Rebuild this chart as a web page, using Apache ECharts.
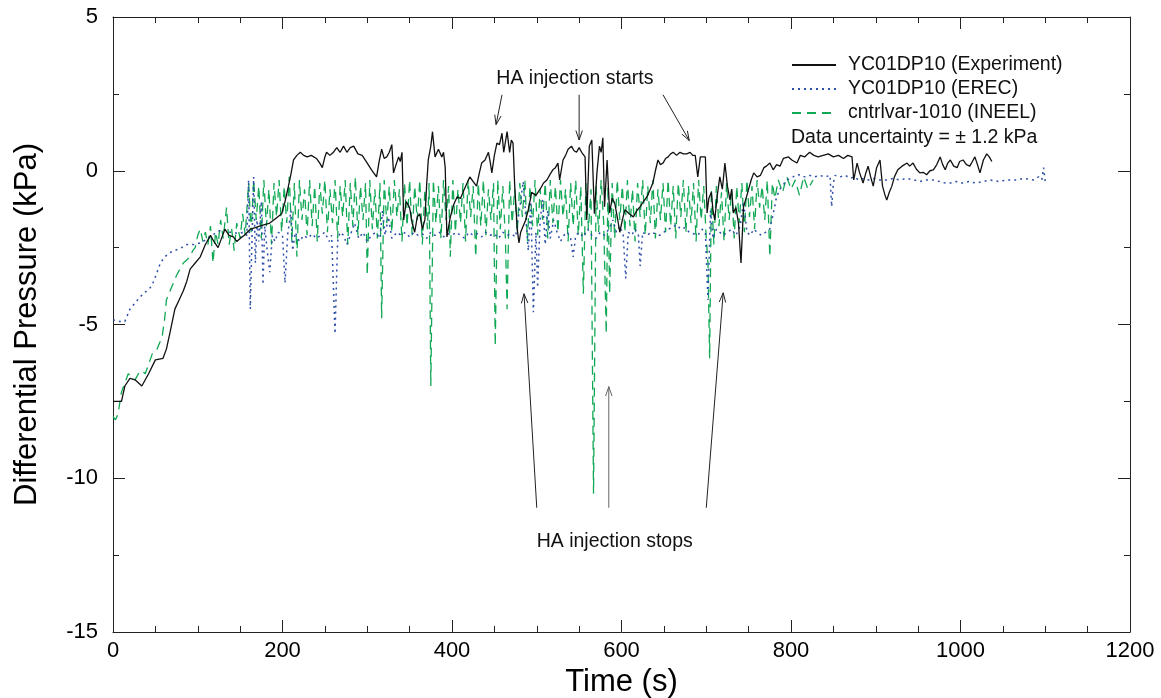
<!DOCTYPE html>
<html>
<head>
<meta charset="utf-8">
<script src="https://cdn.jsdelivr.net/npm/echarts@6/dist/echarts.min.js"></script>
<style>
html,body{margin:0;padding:0;background:#fff;}
#chart{width:1161px;height:698px;}
</style>
</head>
<body>
<div id="chart"></div>
<script>
// ---- data (time s, differential pressure kPa) ----
const seriesNames = ['YC01DP10 (Experiment)', 'YC01DP10 (EREC)', 'cntrlvar-1010 (INEEL)'];

const experiment = [
[0,-7.5],[5,-7.5],[10,-7.5],[14,-7.0],[20,-6.75],[26,-6.8],[34,-7.0],[42,-6.6],[50,-6.15],[59,-6.1],[63,-5.8],[67,-5.3],[73,-4.5],[78,-4.2],[83,-3.9],[87,-3.6],[91,-3.2],[97,-3.0],[103,-2.8],[109,-2.4],[115,-2.1],[119,-2.3],[124,-2.5],[128,-2.2],[132,-1.9],[137,-2.1],[142,-2.15],[146,-2.3],[150,-2.2],[155,-2.1],[162,-1.9],[168,-1.85],[173,-1.8],[179,-1.75],[185,-1.7],[192,-1.55],[199,-1.4],[203,-1.0],[207,-0.5],[210,-0.1],[213,0.35],[217,0.5],[221,0.6],[225,0.5],[229,0.45],[234,0.5],[240,0.4],[244,0.25],[247,0.1],[250,0.45],[252,0.6],[256,0.5],[260,0.6],[264,0.75],[268,0.6],[272,0.8],[276,0.6],[280,0.75],[284,0.8],[289,0.55],[294,0.5],[300,0.25],[305,0.03],[311,-0.2],[314,0.3],[317,0.7],[320,0.4],[323,0.45],[326,0.6],[329,0.85],[331,-0.07],[334,0.2],[337,0.45],[339,0.3],[341,0.6],[343,-1.6],[346,-1.0],[350,-1.2],[353,-1.7],[356,-2.0],[359,-1.5],[362,-1.4],[365,-1.9],[368,-1.6],[370,-0.5],[372,0.35],[375,0.8],[377,1.27],[380,0.45],[384,0.7],[388,0.45],[390,0.6],[392,0.1],[394,-2.15],[398,-1.5],[402,-1.1],[406,-0.85],[410,-0.9],[413,-0.7],[417,-0.45],[421,-0.2],[425,-0.35],[429,-0.5],[432,-0.1],[435,0.25],[439,0.35],[443,0.6],[445,0.3],[447,-0.07],[450,0.5],[453,0.9],[456,0.85],[459,1.22],[461,0.6],[465,1.27],[468,0.6],[470,1.0],[472,0.9],[474,-0.5],[477,-1.9],[479,-2.35],[481,-2.0],[484,-1.8],[487,-1.6],[490,-1.27],[494,-0.7],[499,-0.8],[504,-0.6],[508,-0.4],[512,-0.3],[516,-0.1],[519,0.03],[522,0.1],[525,0.25],[527,-0.3],[531,0.35],[534,0.5],[537,0.7],[541,0.8],[544,0.65],[547,0.6],[550,0.75],[553,0.6],[557,0.45],[559,-1.6],[562,0.8],[565,1.0],[568,-1.4],[571,-0.07],[574,0.8],[576,0.6],[578,1.07],[580,-1.17],[583,0.35],[586,-1.37],[589,-0.9],[592,-1.05],[595,-1.5],[598,-2.0],[601,-1.6],[604,-1.27],[609,-1.4],[614,-1.5],[618,-1.3],[622,-1.17],[626,-1.0],[630,-0.85],[634,-0.6],[637,-0.4],[640,0.0],[643,0.35],[646,0.2],[649,0.25],[652,0.4],[655,0.45],[658,0.55],[661,0.6],[665,0.5],[669,0.6],[673,0.55],[677,0.55],[681,0.6],[684,0.5],[687,0.5],[690,-0.2],[693,0.45],[695,0.5],[699,0.45],[701,-1.37],[703,-0.9],[706,-0.7],[708,-1.3],[710,-1.6],[713,-0.8],[716,-0.2],[719,-0.6],[722,0.25],[725,-0.5],[728,-0.95],[730,-0.6],[732,-1.37],[735,-1.2],[738,-1.7],[741,-3.0],[744,-1.17],[747,-0.9],[750,-0.6],[753,-0.3],[756,-0.07],[760,-0.2],[764,-0.15],[768,0.1],[771,0.15],[775,0.25],[779,0.03],[783,0.2],[787,0.15],[791,0.4],[797,0.45],[801,0.35],[807,0.25],[811,0.5],[816,0.45],[822,0.6],[827,0.5],[832,0.45],[838,0.5],[844,0.55],[850,0.45],[856,0.5],[862,0.4],[867,0.5],[872,0.45],[874,-0.3],[878,0.25],[881,-0.07],[885,-0.4],[888,-0.1],[891,0.15],[894,-0.2],[897,-0.5],[901,0.1],[905,0.35],[908,-0.5],[911,-0.8],[913,-0.95],[916,-0.7],[919,-0.5],[922,-0.2],[926,0.03],[931,0.15],[937,0.25],[940,0.15],[944,0.25],[948,0.05],[952,-0.07],[956,-0.05],[960,-0.13],[964,0.0],[968,0.03],[972,0.2],[976,0.45],[979,0.2],[982,0.03],[985,0.25],[988,0.35],[992,0.15],[996,0.1],[999,0.3],[1003,0.35],[1007,0.2],[1011,0.15],[1014,0.3],[1017,0.45],[1020,0.2],[1023,-0.07],[1027,0.35],[1031,0.55],[1034,0.45],[1037,0.3]
];

const erec = [
[0,-4.85],[8,-4.9],[14,-4.9],[20,-4.5],[26,-4.3],[32,-4.1],[38,-3.95],[44,-3.8],[48,-3.6],[52,-3.3],[56,-3.0],[61,-2.8],[68,-2.65],[75,-2.57],[81,-2.5],[87,-2.4],[95,-2.4],[103,-2.35],[109,-2.25],[115,-2.15],[122,-2.0],[130,-1.9],[136,-2.0],[142,-2.0],[148,-2.05],[154,-2.0],[158,-2.1],[160,-0.3],[162,-4.5],[164,-2.2],[166,-0.2],[168,-3.0],[170,-1.6],[172,-2.3],[175,-1.0],[177,-3.7],[179,-1.8],[182,-2.6],[185,-3.3],[188,-2.1],[191,-2.3],[195,-2.0],[200,-2.1],[203,-3.65],[206,-2.1],[210,-1.3],[212,-2.6],[215,-2.0],[220,-2.3],[225,-2.1],[230,-2.2],[235,-2.05],[240,-2.2],[245,-2.1],[250,-2.0],[255,-2.3],[258,-2.1],[262,-5.3],[265,-2.3],[268,-2.0],[272,-2.1],[276,-2.4],[280,-2.1],[285,-1.7],[290,-2.2],[295,-2.0],[300,-2.3],[305,-2.1],[310,-2.0],[315,-2.2],[318,-1.3],[321,-2.1],[325,-1.5],[329,-2.2],[335,-2.0],[340,-2.1],[345,-2.0],[350,-2.15],[355,-2.0],[360,-2.1],[365,-2.05],[370,-2.2],[375,-2.0],[380,-2.1],[385,-2.0],[390,-2.15],[395,-2.05],[400,-2.1],[405,-2.0],[410,-2.1],[415,-2.2],[420,-2.0],[425,-2.1],[430,-2.05],[435,-2.15],[440,-2.0],[445,-2.1],[450,-2.05],[455,-2.2],[460,-2.0],[465,-2.1],[470,-2.05],[475,-2.15],[480,-1.2],[484,-0.35],[487,-1.5],[490,-2.6],[493,-1.0],[496,-4.6],[499,-2.0],[501,-3.8],[504,-1.6],[507,-0.95],[510,-2.4],[513,-1.3],[516,-2.2],[520,-1.6],[524,-2.0],[528,-2.3],[532,-2.1],[536,-2.0],[540,-2.2],[543,-2.8],[546,-2.1],[550,-2.0],[555,-2.15],[560,-1.9],[565,-2.1],[570,-2.2],[575,-2.0],[580,-2.1],[585,-1.9],[590,-1.6],[594,-2.0],[598,-1.8],[602,-2.1],[605,-3.5],[608,-2.0],[612,-2.1],[616,-1.9],[620,-2.1],[622,-3.1],[625,-2.0],[630,-2.1],[635,-2.0],[640,-2.05],[645,-2.1],[650,-2.0],[655,-1.9],[660,-1.85],[665,-1.75],[670,-1.9],[675,-1.85],[680,-2.0],[685,-2.05],[690,-2.1],[695,-1.9],[699,-2.0],[702,-4.2],[705,-1.3],[708,-2.2],[712,-1.9],[716,-2.0],[720,-2.1],[725,-2.0],[730,-1.9],[735,-2.1],[740,-1.8],[744,-1.0],[748,-2.0],[752,-2.1],[756,-1.9],[760,-2.0],[765,-2.1],[770,-2.0],[775,-1.9],[779,-1.4],[783,-0.85],[787,-0.6],[791,-0.45],[795,-0.3],[800,-0.25],[805,-0.15],[811,-0.13],[816,-0.2],[822,-0.15],[828,-0.2],[834,-0.15],[840,-0.2],[846,-0.15],[848,-1.17],[850,-0.4],[852,-0.15],[858,-0.2],[864,-0.15],[870,-0.25],[874,-0.2],[880,-0.3],[886,-0.25],[892,-0.3],[898,-0.25],[905,-0.3],[913,-0.3],[920,-0.25],[928,-0.3],[937,-0.25],[945,-0.3],[952,-0.35],[960,-0.3],[968,-0.3],[975,-0.35],[982,-0.4],[988,-0.4],[995,-0.35],[1002,-0.4],[1010,-0.35],[1018,-0.4],[1027,-0.35],[1035,-0.3],[1045,-0.35],[1055,-0.3],[1066,-0.3],[1075,-0.25],[1086,-0.3],[1092,-0.2],[1096,-0.3],[1098,0.1],[1100,-0.35]
];

const ineel = [
[0,-8.0],[3,-8.1],[6,-7.9],[10,-7.2],[14,-6.9],[18,-6.6],[22,-6.7],[26,-6.8],[30,-6.6],[34,-6.5],[38,-6.6],[42,-6.3],[47,-5.9],[52,-5.8],[58,-5.4],[61,-4.8],[63,-4.2],[66,-4.0],[69,-3.8],[72,-3.6],[75,-3.4],[79,-3.2],[83,-3.0],[87,-2.9],[91,-2.8],[94,-2.6],[97,-2.5],[100,-2.1],[103,-1.9],[106,-2.3],[109,-2.0],[112,-2.4],[115,-1.8],[118,-3.0],[121,-2.0],[124,-2.4],[127,-1.6],[130,-2.2],[134,-1.2],[137,-2.4],[140,-1.9],[143,-2.6],[146,-1.7],[150,-2.2],[153,-1.4],[156,-2.1],
[160,-0.4],[163,-2.0],[166,-0.3],[169,-1.6],[172,-0.5],[175,-2.2],[178,-0.3],[181,-1.8],[184,-0.6],[187,-2.4],[190,-0.4],[193,-1.5],[196,-0.3],[199,-2.0],[202,-0.5],[205,-1.7],[208,-0.2],[211,-2.3],[214,-0.4],[217,-2.8],[220,-0.3],[223,-1.6],[226,-0.6],[229,-2.1],[232,-0.3],[235,-1.8],[238,-0.5],[241,-2.3],[244,-0.4],[247,-1.4],[250,-0.3],[253,-2.0],[256,-0.6],[259,-1.7],[262,-0.3],[265,-2.2],[268,-0.5],[271,-1.5],[274,-0.3],[277,-2.4],[280,-0.4],[283,-1.8],[286,-0.2],[289,-2.1],[292,-0.5],[295,-1.6],[298,-0.4],[300,-3.4],[303,-0.3],[306,-1.9],[309,-0.6],[312,-2.2],[315,-0.4],[317,-4.8],[320,-0.3],[323,-1.7],[326,-0.5],[329,-2.0],[332,-0.3],[335,-1.5],[338,-0.6],[341,-2.3],[344,-0.4],[347,-1.8],[350,-0.3],[353,-2.1],[356,-0.5],[359,-1.6],[362,-0.3],[365,-2.4],[368,-0.6],[371,-1.9],[373,-0.4],[375,-7.0],[378,-0.3],[381,-1.7],[384,-0.5],[387,-2.2],[390,-0.3],[393,-1.6],[396,-0.5],[398,-2.8],[401,-0.3],[404,-2.0],[407,-0.6],[410,-1.7],[413,-0.4],[416,-2.3],[419,-0.3],[422,-1.5],[425,-0.5],[428,-2.8],[431,-0.4],[434,-1.8],[437,-0.3],[440,-2.1],[443,-0.6],[446,-1.6],[449,-0.4],[451,-5.7],[454,-0.3],[457,-1.9],[460,-0.5],[463,-2.2],[465,-4.5],[468,-0.3],[471,-1.7],[474,-0.6],[477,-2.0],[480,-0.4],[483,-1.5],[486,-0.3],[489,-2.3],[492,-0.5],[495,-1.8],[498,-0.3],[501,-2.1],[504,-0.6],[507,-1.6],[510,-0.4],[513,-2.2],[516,-0.3],[519,-1.7],[522,-0.5],[525,-2.0],[528,-0.3],[531,-1.5],[534,-0.6],[537,-2.3],[540,-0.4],[543,-1.8],[546,-0.3],[549,-2.1],[552,-0.5],[555,-4.0],[558,-0.4],[561,-1.9],[564,-0.6],[567,-10.5],[570,-0.5],[573,-2.0],[576,-0.3],[579,-1.7],[582,-5.3],[584,-0.5],[586,-4.0],[589,-0.4],[592,-2.2],[595,-0.3],[598,-1.6],[601,-0.5],[604,-2.0],[607,-0.3],[610,-1.8],[613,-0.6],[616,-2.3],[619,-0.4],[622,-1.5],[625,-0.3],[628,-2.1],[631,-0.5],[634,-1.7],[637,-0.3],[640,-2.2],[643,-0.6],[646,-1.6],[649,-0.4],[652,-2.0],[655,-0.3],[658,-1.8],[661,-0.5],[664,-2.2],[667,-0.4],[670,-1.5],[673,-0.3],[676,-2.0],[679,-0.5],[682,-1.7],[685,-0.4],[688,-2.3],[691,-0.3],[694,-1.6],[697,-0.5],[700,-2.2],[702,-3.0],[704,-6.1],[706,-0.6],[709,-2.4],[712,-0.5],[715,-1.8],[718,-0.7],[721,-2.3],[724,-0.4],[727,-1.6],[730,-0.6],[733,-2.2],[736,-0.5],[739,-1.7],[742,-0.4],[745,-2.0],[748,-0.3],[751,-1.5],[754,-0.5],[757,-1.9],[760,-0.3],[763,-1.2],[766,-0.5],[769,-1.6],[772,-0.3],[775,-2.8],[778,-0.4],[781,-0.9],[785,-0.3],[790,-0.7],[795,-0.2],[800,-0.6],[805,-0.3],[810,-0.8],[815,-0.2],[820,-0.6],[826,-0.3]
];

// axis ranges / ticks
const xRange = [0, 1200], xStep = 200;
const yRange = [-15, 5], yStep = 5;

// annotations (data coordinates)
const startsLabel = {text: 'HA injection starts', at: [545, 3.0]};
const startsArrows = [[[459, 2.47], [452, 1.5]], [[550, 2.47], [550, 1.0]], [[649, 2.47], [680, 0.98]]];
const stopsLabel = {text: 'HA injection stops', at: [592, -12.07]};
const stopsArrows = [[[500, -10.96], [485, -4.0]], [[585, -10.96], [585, -7.02]], [[700, -10.96], [720, -3.97]]];
const noteText = 'Data uncertainty = \u00b1 1.2 kPa';

const FONT = 'Liberation Sans, Arial, sans-serif';
const chart = echarts.init(document.getElementById('chart'), null, {renderer: 'canvas'});

function xAxisCfg(pos, showLabel) {
  return {
    type: 'value', position: pos, min: xRange[0], max: xRange[1], interval: xStep,
    axisLine: {show: true, onZero: false, lineStyle: {color: '#222', width: 1}},
    axisTick: {show: true, inside: true, length: 12, lineStyle: {color: '#222'}},
    minorTick: {show: true, splitNumber: 4, length: 6, lineStyle: {color: '#222'}},
    splitLine: {show: false}, minorSplitLine: {show: false},
    axisLabel: {show: showLabel, color: '#000', fontSize: 22, fontFamily: FONT, margin: 8,
                formatter: v => String(v)},
    name: showLabel ? 'Time (s)' : '', nameLocation: 'middle', nameGap: 30,
    nameTextStyle: {color: '#000', fontSize: 31, fontFamily: FONT}
  };
}
function yAxisCfg(pos, showLabel) {
  return {
    type: 'value', position: pos, min: yRange[0], max: yRange[1], interval: yStep,
    axisLine: {show: true, onZero: false, lineStyle: {color: '#222', width: 1}},
    axisTick: {show: true, inside: true, length: 12, lineStyle: {color: '#222'}},
    minorTick: {show: true, splitNumber: 2, length: 6, lineStyle: {color: '#222'}},
    splitLine: {show: false}, minorSplitLine: {show: false},
    axisLabel: {show: showLabel, color: '#000', fontSize: 22, fontFamily: FONT, margin: 15,
                formatter: v => String(v)},
    name: showLabel ? 'Differential Pressure (kPa)' : '', nameLocation: 'middle', nameGap: 70,
    nameTextStyle: {color: '#000', fontSize: 31, fontFamily: FONT}
  };
}

const option = {
  animation: false,
  backgroundColor: '#fff',
  grid: {left: 113, right: 31, top: 17, bottom: 66, containLabel: false, outerBoundsMode: 'none'},
  xAxis: [xAxisCfg('bottom', true), xAxisCfg('top', false)],
  yAxis: [yAxisCfg('left', true), yAxisCfg('right', false)],
  legend: {
    orient: 'vertical', left: 791, top: 53, padding: 0, itemGap: 0,
    itemWidth: 44, itemHeight: 24, selectedMode: false,
    itemStyle: {opacity: 0},
    data: seriesNames,
    textStyle: {color: '#111', fontSize: 19.5, lineHeight: 24, fontFamily: FONT, padding: [0, 0, 0, 7]}
  },
  series: [
    {name: seriesNames[0], type: 'line', data: experiment, xAxisIndex: 0, yAxisIndex: 0,
     symbol: 'none', showSymbol: false, z: 4,
     lineStyle: {color: '#111', width: 1.3}, itemStyle: {color: '#111'}},
    {name: seriesNames[1], type: 'line', data: erec, xAxisIndex: 0, yAxisIndex: 0,
     symbol: 'none', showSymbol: false, z: 3,
     lineStyle: {color: '#2f50a8', width: 1.5, type: [2, 4]}, itemStyle: {color: '#2f50a8'}},
    {name: seriesNames[2], type: 'line', data: ineel, xAxisIndex: 0, yAxisIndex: 0,
     symbol: 'none', showSymbol: false, z: 2,
     lineStyle: {color: '#10a854', width: 1.3, type: [9, 6]}, itemStyle: {color: '#10a854'}}
  ]
};
chart.setOption(option);

// ---- annotations positioned through the chart's own scales ----
function px(p) { return chart.convertToPixel({xAxisIndex: 0, yAxisIndex: 0}, p); }
function arrowEls(pair, color) {
  const a = px(pair[0]), b = px(pair[1]);
  const ang = Math.atan2(b[1] - a[1], b[0] - a[0]);
  const L = 10, spread = 0.33;
  const h1 = [b[0] - L * Math.cos(ang - spread), b[1] - L * Math.sin(ang - spread)];
  const h2 = [b[0] - L * Math.cos(ang + spread), b[1] - L * Math.sin(ang + spread)];
  return [
    {type: 'line', shape: {x1: a[0], y1: a[1], x2: b[0], y2: b[1]}, style: {stroke: color, lineWidth: 1}, z: 10},
    {type: 'polyline', shape: {points: [h1, b, h2]}, style: {stroke: color, lineWidth: 1, fill: null}, z: 10}
  ];
}
const gfx = [];
startsArrows.forEach(p => gfx.push(...arrowEls(p, '#222')));
stopsArrows.forEach((p, i) => gfx.push(...arrowEls(p, i === 1 ? '#666' : '#222')));
const sp = px(startsLabel.at), tp = px(stopsLabel.at);
gfx.push({type: 'text', x: sp[0], y: sp[1], z: 10,
  style: {text: startsLabel.text, fill: '#111', font: '19.5px ' + FONT, textAlign: 'center', textVerticalAlign: 'middle'}});
gfx.push({type: 'text', x: tp[0], y: tp[1], z: 10,
  style: {text: stopsLabel.text, fill: '#111', font: '19.5px ' + FONT, textAlign: 'center', textVerticalAlign: 'middle'}});
gfx.push({type: 'text', left: 791, top: 128, z: 10,
  style: {text: noteText, fill: '#111', font: '19.5px ' + FONT}});
chart.setOption({graphic: gfx});
</script>
</body>
</html>
